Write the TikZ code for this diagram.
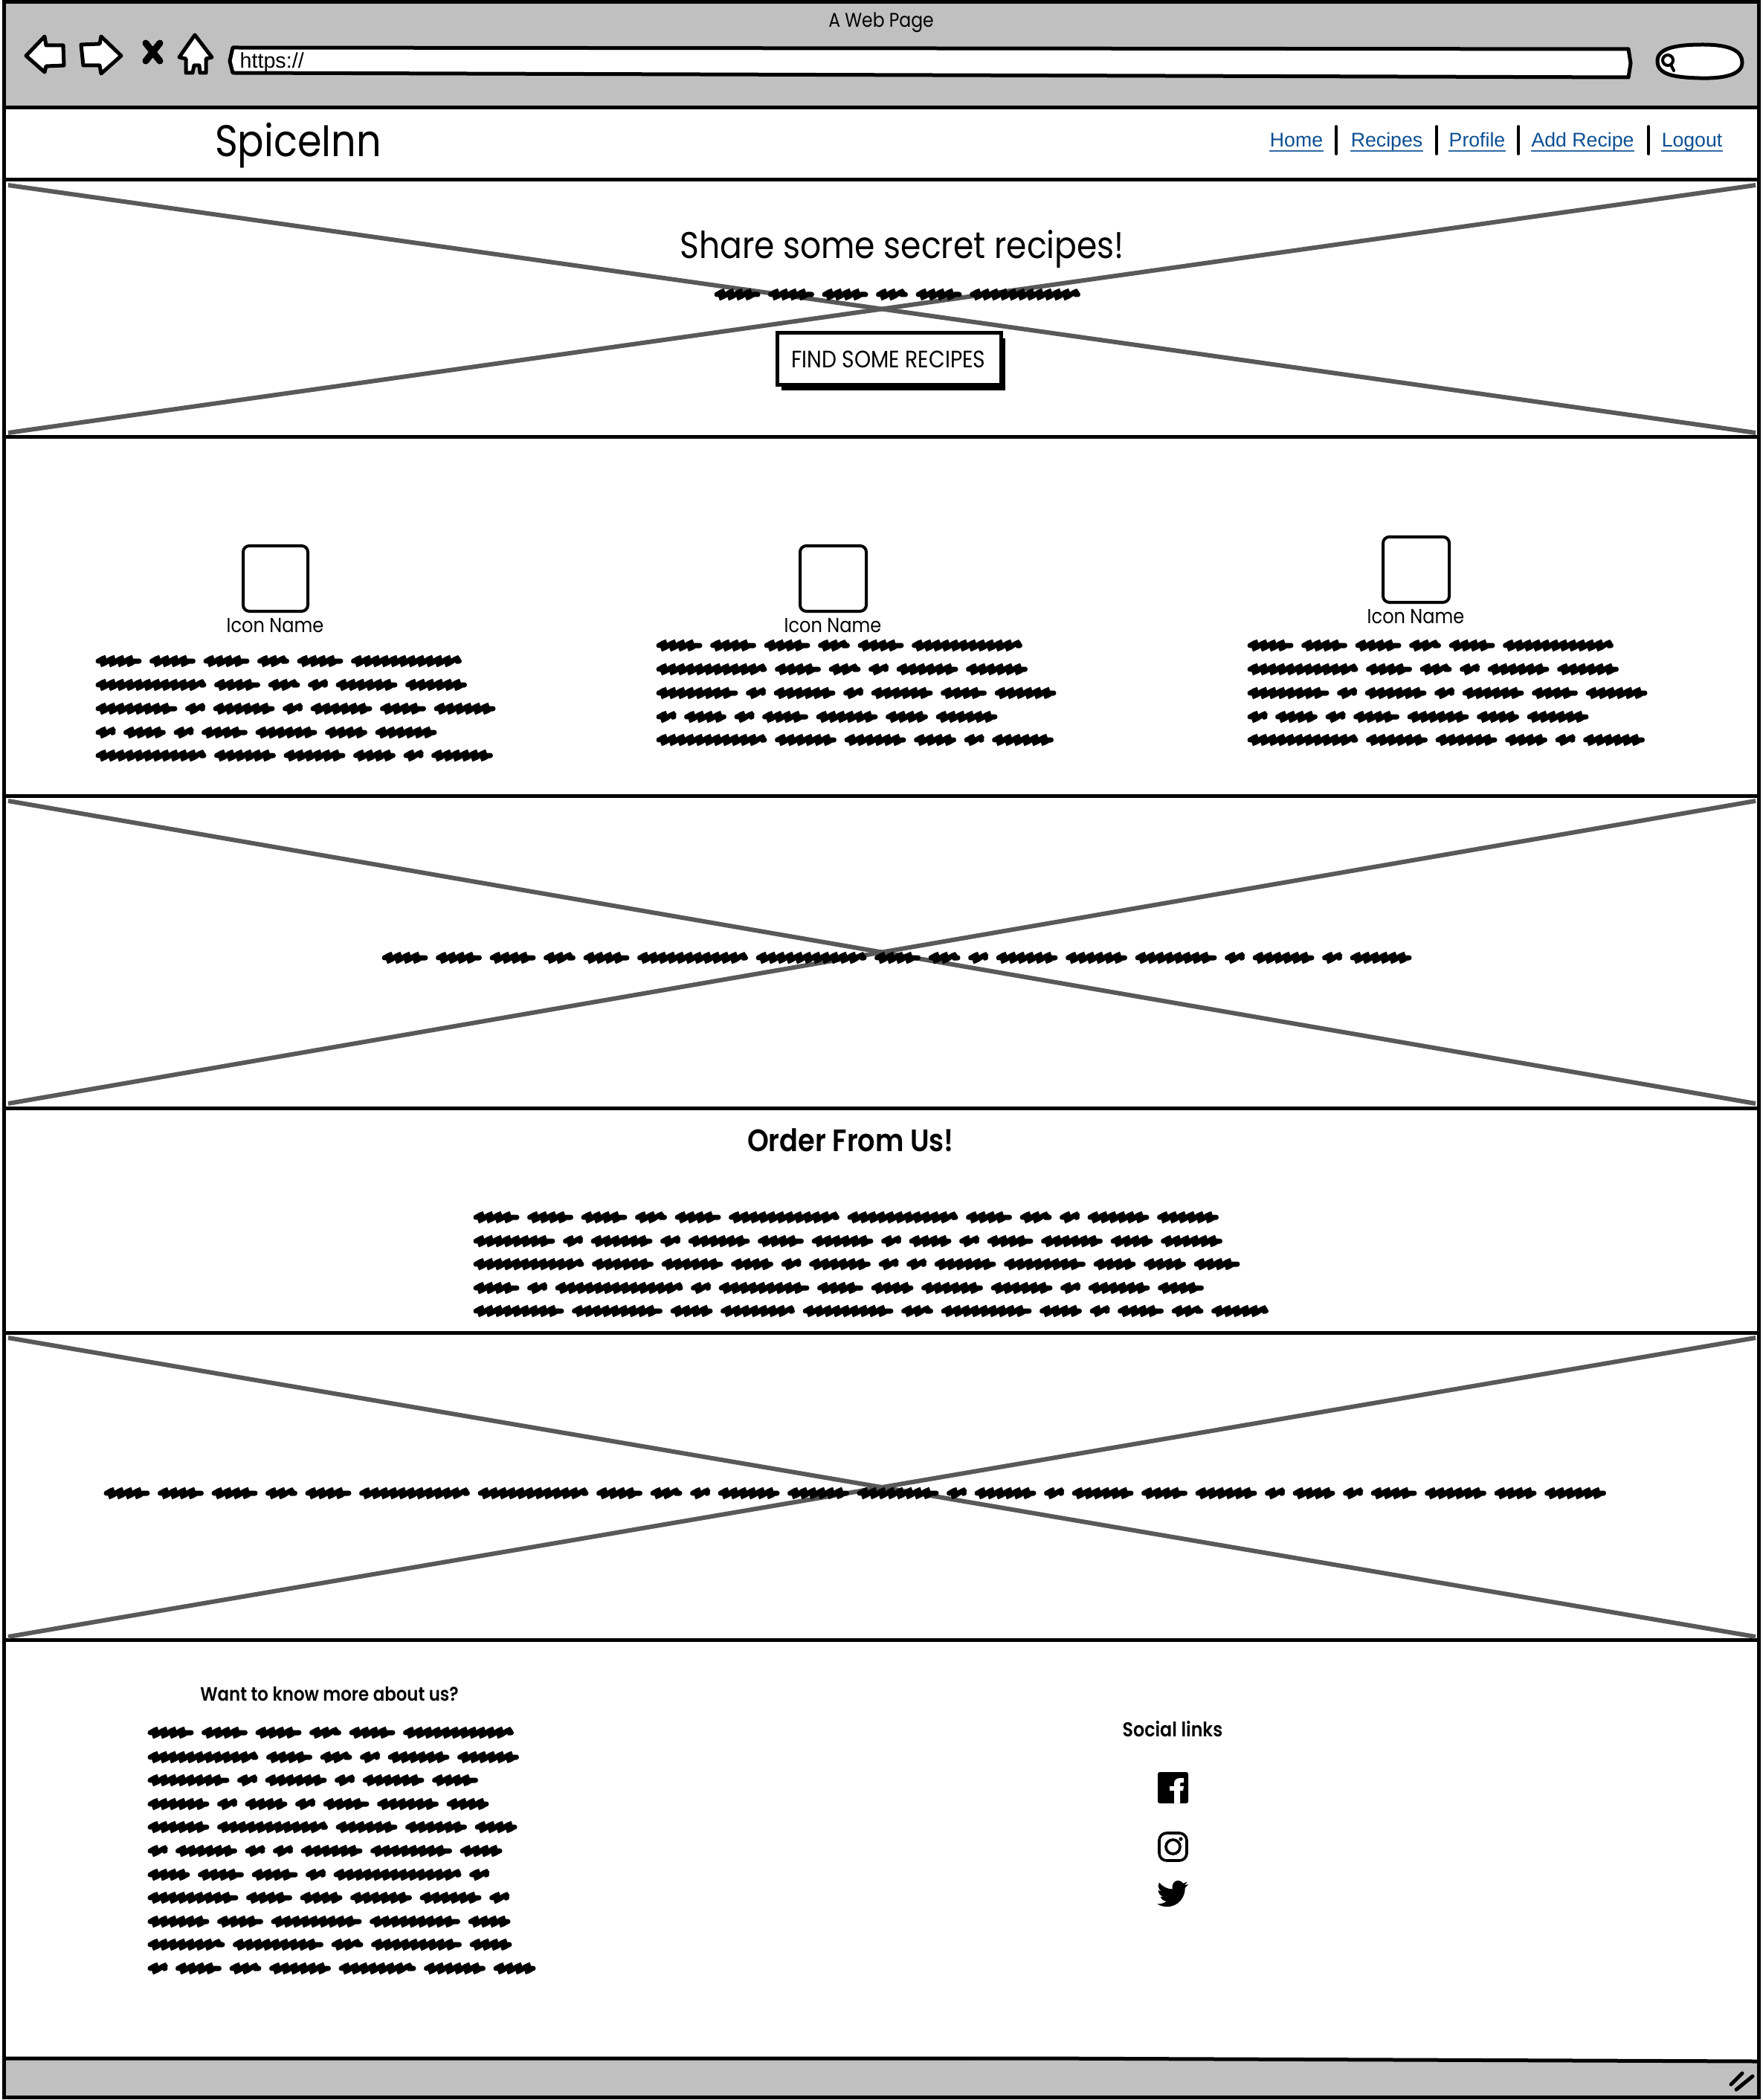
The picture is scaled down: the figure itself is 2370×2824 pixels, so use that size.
\documentclass[tikz,border=0pt]{standalone}
\usepackage{fontspec}
\setmainfont{Poppins}[FakeStretch=0.88,BoldFont={Poppins SemiBold}]
\newfontfamily\arialfont{Liberation Sans}
\usetikzlibrary{decorations.pathmorphing}
\definecolor{bargray}{HTML}{C0C0C0}
\definecolor{crossgray}{HTML}{595959}
\definecolor{linkblue}{HTML}{0B4F94}
\def\lineone{63,63,63,44,63,150}
\def\linetwo{150,63,44,28,84,84}
\def\linethree{111,28,84,28,84,63,84}
\def\linefour{28,58,28,63,84,58,84}
\def\linefive{150,84,84,58,28,84}
\newcommand{\wavyline}[3]{%
  \edef\wordlist{#3}%
  \foreach \w [evaluate=\w as \nx using \px+\w+9.5, remember=\nx as \px (initially #1)] in \wordlist
    \draw[wavy] (\px+4,#2) -- (\px+\w-4,#2);}
\begin{document}
\begin{tikzpicture}[x=0.3pt,y=-0.3pt,
  frame/.style={draw=black,line width=1.5pt},
  cross/.style={draw=crossgray,line width=1.8pt},
  wavy/.style={draw=black,line width=2.1pt,line cap=round,decorate,
    decoration={snake,segment length=3.6pt,amplitude=1.1pt,transform={xslant=1}}},
  iconbox/.style={draw=black,line width=1.2pt,rounded corners=2.5pt,fill=white},
  title/.style={font=\fontsize{#1}{#1}\selectfont,inner sep=0pt},
  navlink/.style={font=\arialfont\fontsize{8}{8}\selectfont,text=linkblue,inner sep=0pt,anchor=base},
  navsep/.style={draw=black,line width=1.1pt,line cap=round},
  navline/.style={draw=linkblue!85!white,line width=0.6pt},
  tool/.style={draw=black,fill=white,line width=1.5pt,line join=round}]
\useasboundingbox (0,0) rectangle (2370,2824);
\fill[white] (0,0) rectangle (2370,2824);
\fill[bargray] (5,4) rectangle (2365,145);
\fill[bargray] (5,2768) -- (2365,2772) -- (2365,2820) -- (5,2820) -- cycle;
\draw[frame] (5,3) rectangle (2365,2820);
\draw[frame] (5,145) -- (2365,145);
\draw[frame] (5,2768) -- (1400,2768) -- (2365,2772);
\foreach \ya/\yb in {242/588,1070/1490,1792/2205}
  \draw[frame] (5,\ya) rectangle (2365,\yb);
\foreach \ya/\yb in {249/582,1077/1484,1799/2201} {
  \draw[cross] (11,\ya) -- (2361,\yb);
  \draw[cross] (11,\yb) -- (2361,\ya);
}
\node[title=8] (pagename) at (1185,30) {A Web Page};
\draw[tool] (35,75) -- (60,49) -- (62,61) -- (85,61) -- (86,88) -- (62,89) -- (60,97) -- cycle;
\draw[tool] (109,60) -- (134,59) -- (136,49) -- (163,75) -- (136,99) -- (134,88) -- (112,88) -- cycle;
\draw[black,line width=2.7pt,line cap=round] (196,58) -- (215,82) (215,58) -- (196,82);
\draw[tool] (262,47) -- (241,77) -- (250,79) -- (250,98) -- (259,98) -- (261,88) -- (268,88) -- (269,98) -- (277,98) -- (277,79) -- (285,77) -- cycle;
\draw[tool] (313,64) -- (2190,66) -- (2193,85) -- (2190,104) -- (313,98) -- (309,82) -- cycle;
\node[font=\arialfont\fontsize{8.6}{8.6}\selectfont,inner sep=0pt,anchor=west] (url) at (322,84) {https://};
\draw[tool] (2229,82) .. controls (2229,66) and (2250,60) .. (2290,60) .. controls (2330,60) and (2343,70) .. (2343,84) .. controls (2343,100) and (2320,106) .. (2285,105) .. controls (2250,104) and (2229,100) .. (2229,82) -- cycle;
\draw[black,line width=1.2pt] (2243,81) circle (7);
\draw[black,line width=1.2pt,line cap=round] (2247,87) -- (2251,95);
\node[title=17.9] (brand) at (401,196) {SpiceInn};
\node[navlink] (home) at (1743.5,198) {Home};
\node[navlink] (recipes) at (1865,198) {Recipes};
\node[navlink] (profile) at (1986.5,198) {Profile};
\node[navlink] (addrecipe) at (2128.5,198) {Add Recipe};
\node[navlink] (logout) at (2275.5,198) {Logout};
\foreach \n in {home,recipes,profile,addrecipe,logout}
  \draw[navline] ([yshift=-1.6pt]\n.base west) -- ([yshift=-1.6pt]\n.base east);
\foreach \x in {1797,1932,2042,2217}
  \draw[navsep] (\x,170) -- (\x,207);
\node[title=15] (herotitle) at (1213,335) {Share some secret recipes!};
\wavyline{960}{396}{\lineone}
\fill[black] (1051,455) rectangle (1352,525);
\draw[frame,fill=white] (1045,448) rectangle (1346,518);
\node[title=9.6] (findbtn) at (1195,483) {FIND SOME RECIPES};
\draw[iconbox] (327,734) rectangle (414,822);
\draw[iconbox] (1076,734) rectangle (1165,822);
\draw[iconbox] (1860,722) rectangle (1949,810);
\node[title=8.2] (iconone) at (370,841) {Icon Name};
\node[title=8.2] (icontwo) at (1120,841) {Icon Name};
\node[title=8.2] (iconthree) at (1904,829) {Icon Name};
\foreach \xa/\ya in {128/889,882/868,1677/868} {
  \wavyline{\xa}{\ya}{\lineone}
  \wavyline{\xa}{\ya+32}{\linetwo}
  \wavyline{\xa}{\ya+64}{\linethree}
  \wavyline{\xa}{\ya+96}{\linefour}
  \wavyline{\xa}{\ya+127}{\linefive}
}
\wavyline{513}{1288}{\lineone,\linetwo,111,28,84,28,84}
\node[font=\bfseries\fontsize{12.5}{12.5}\selectfont,inner sep=0pt] (ordertitle) at (1144,1533) {Order From Us!};
\wavyline{636}{1637}{\lineone,\linetwo}
\wavyline{636}{1669}{\linethree,\linefour}
\wavyline{636}{1700}{\linefive,28,28,84,111,58,58,63}
\wavyline{636}{1732}{63,28,173,28,123,63,58,84,84,28,84,63}
\wavyline{636}{1763}{123,123,58,101,123,44,123,58,28,63,44,78}
\wavyline{139}{2008}{\lineone,\linetwo,\linethree,\linefour}
\node[font=\bfseries\fontsize{7.8}{7.8}\selectfont,inner sep=0pt] (abouttitle) at (443,2278) {Want to know more about us?};
\wavyline{198}{2330}{\lineone}
\wavyline{198}{2363}{\linetwo}
\wavyline{198}{2394}{111,28,84,28,84,63}
\wavyline{198}{2426}{84,28,58,28,63,84,58}
\wavyline{198}{2457}{84,150,84,84,58}
\wavyline{198}{2489}{28,84,28,28,84,111,58}
\wavyline{198}{2521}{58,63,63,28,173,28}
\wavyline{198}{2552}{123,63,58,84,84,28}
\wavyline{198}{2584}{84,63,123,123,58}
\wavyline{198}{2615}{105,123,44,123,58}
\wavyline{198}{2647}{28,63,44,84,105,84,58}
\node[font=\bfseries\fontsize{8.1}{8.1}\selectfont,inner sep=0pt] (sociallinks) at (1577,2325) {Social links};
\fill[black,rounded corners=0.8pt] (1557,2383) rectangle (1598,2425);
\fill[white] (1579,2425) -- (1579,2408) -- (1573,2408) -- (1573,2402) -- (1579,2402) -- (1579,2398) .. controls (1579,2393) and (1583,2391) .. (1588,2391) -- (1592,2391) -- (1592,2397) -- (1589,2397) .. controls (1587,2397) and (1587,2398) .. (1587,2400) -- (1587,2402) -- (1592,2402) -- (1591,2408) -- (1587,2408) -- (1587,2425) -- cycle;
\draw[black,line width=1.1pt,rounded corners=3pt] (1559,2465) rectangle (1596,2502);
\draw[black,line width=1.1pt] (1577.5,2483.5) circle (9.5);
\fill[black] (1588,2473) circle (2.6);
\begin{scope}[shift={(1556,2526)},scale=1.75]
\fill[black] (23.95,4.57) -- (21.13,5.35) -- (23.29,2.62) -- (20.16,3.81) .. controls (19.2,2.4) and (17.7,1.6) .. (16,1.6) .. controls (13,1.6) and (11.2,5) .. (11.78,8.29) .. controls (7.69,8.09) and (4.07,6.13) .. (1.64,3.16) -- (0.97,5.64) .. controls (0.97,7.35) and (1.84,8.85) .. (3.16,9.73) -- (0.93,9.12) -- (0.93,9.18) .. controls (1,11.5) and (2.7,13.5) .. (4.88,14) -- (2.67,14.09) .. controls (3.3,16) and (5.1,17.4) .. (7.27,17.5) .. controls (5.6,18.8) and (3.5,19.61) .. (1.17,19.61) .. controls (0.78,19.61) and (0.39,19.59) .. (0,19.54) .. controls (2.2,20.9) and (4.8,21.75) .. (7.56,21.75) .. controls (16.6,21.75) and (21.55,14.25) .. (21.55,7.77) -- (21.54,7.14) .. controls (22.5,6.4) and (23.3,5.6) .. (24,4.59) -- cycle;
\end{scope}
\draw[black,line width=1.5pt,line cap=round] (2328,2803) -- (2343,2788);
\draw[black,line width=1.5pt,line cap=round] (2335,2810) -- (2357,2792);
\end{tikzpicture}
\end{document}
